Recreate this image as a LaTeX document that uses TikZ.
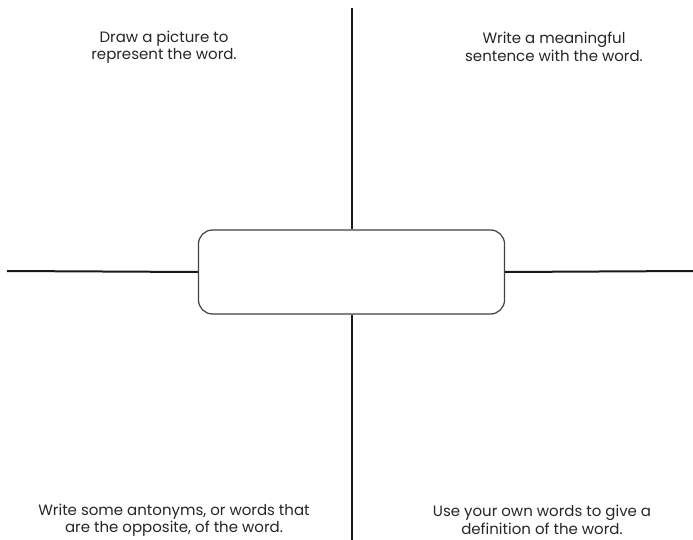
\documentclass[tikz,border=0pt]{standalone}
\usepackage{fontspec}
\setmainfont{Poppins}
\usetikzlibrary{positioning}

\begin{document}
\begin{tikzpicture}[x=1pt, y=-1pt,
    prompt/.style={font=\fontsize{15}{17.5}\selectfont, align=center, text=black!85},
    divider/.style={line width=2pt, black!90}]
        \useasboundingbox (0,0) rectangle (693,540);
        % Centre box for the word
        \node[draw=black!75, line width=1.2pt, rounded corners=14pt, minimum width=306pt, minimum height=84pt] (wordbox) at (351.5,272) {};

        % Quadrant prompts
        \node[prompt] (picture) at (164,47) {Draw a picture to\\represent the word.};
        \node[prompt] (sentence) at (554,47) {Write a meaningful\\sentence with the word.};
        \node[prompt] (antonyms) at (174,520) {Write some antonyms, or words that\\are the opposite, of the word.};
        \node[prompt] (definition) at (542,520) {Use your own words to give a\\definition of the word.};

        % Dividing lines
        \coordinate (topend) at (351.5,8);
        \coordinate (bottomend) at (351.5,540);
        \coordinate (leftend) at (7,271);
        \coordinate (rightend) at (693,271);
        \draw[divider] (topend) -- (wordbox.north);
        \draw[divider] (wordbox.south) -- (bottomend);
        \draw[divider] (leftend) -- (wordbox.west);
        \draw[divider] (wordbox.east) -- (rightend);
    \end{tikzpicture}
\end{document}
